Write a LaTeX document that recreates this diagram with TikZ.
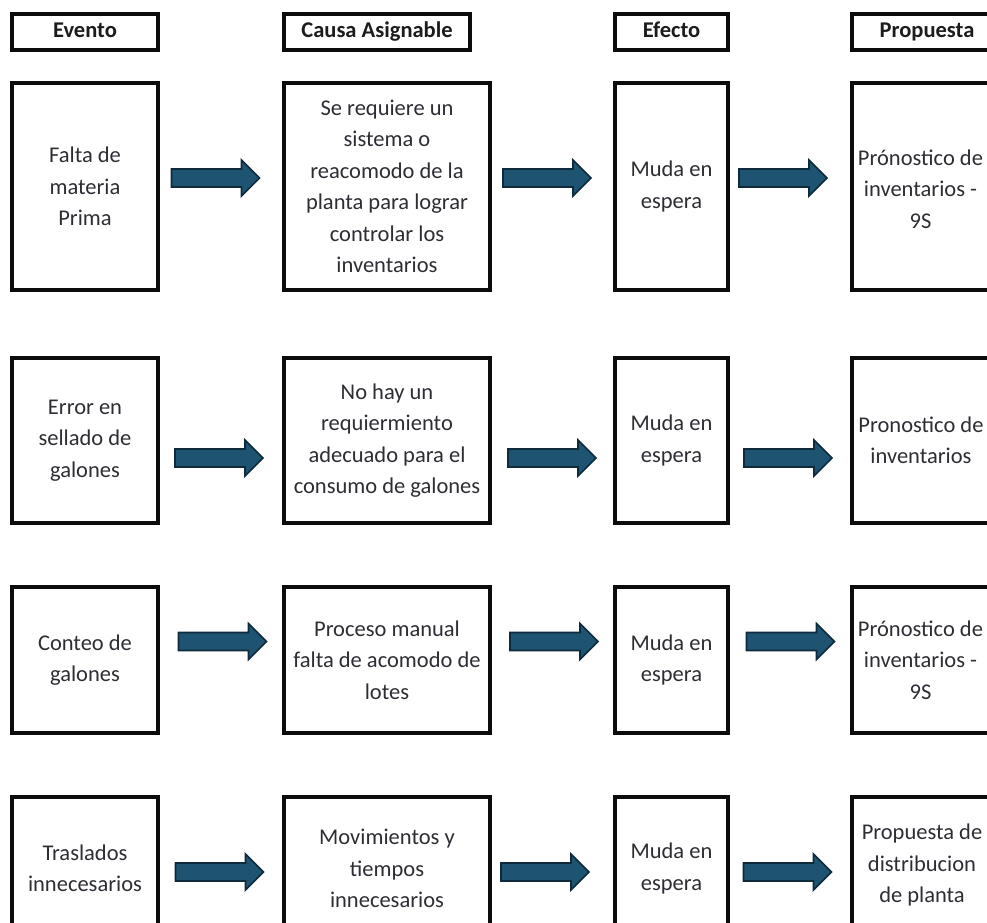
\documentclass[tikz,border=0pt]{standalone}
\usepackage{fontspec}
\setmainfont{Carlito}
\definecolor{frame}{RGB}{12,12,12}
\definecolor{headtext}{RGB}{28,28,28}
\definecolor{bodytext}{RGB}{45,45,52}
\definecolor{arrowfill}{RGB}{30,84,113}
\definecolor{arrowline}{RGB}{14,42,60}
\tikzset{
  header/.style={draw=frame, line width=3.5pt, rectangle, inner sep=0pt,
    minimum height=36pt, text=headtext, text height=13pt, text depth=3pt,
    font=\fontsize{22.5}{26}\selectfont\bfseries},
  cell/.style={draw=frame, line width=3.5pt, rectangle, inner sep=0pt,
    align=center, text=bodytext, font=\fontsize{22.5}{31.5}\selectfont},
  txt/.style={inner sep=0pt, align=center, text=bodytext,
    font=\fontsize{22.5}{31.5}\selectfont},
  pics/blockarrow/.style={code={
    \draw[draw=arrowline, fill=arrowfill, line width=1.6pt, line join=miter]
      (-44,-9) -- (26,-9) -- (26,-18) -- (44,0) -- (26,18) -- (26,9)
      -- (-44,9) -- cycle;
  }},
}
\begin{document}
\begin{tikzpicture}[x=1pt, y=-1pt]
\useasboundingbox (0,0) rectangle (987,922);
\clip (0,0) rectangle (987,922);

% column headers
\node[header, minimum width=146pt] (hEv) at (85,32) {Evento};
\node[header, minimum width=186pt] (hCa) at (377,32) {Causa Asignable};
\node[header, minimum width=113pt] (hEf) at (671.5,32) {Efecto};
\node[header, minimum width=150pt] (hPr) at (927,32) {Propuesta};

% row 1
\node[cell, minimum width=146pt, minimum height=207pt] (e1) at (85,186.5)
  {Falta de\\materia\\Prima};
\node[cell, minimum width=206pt, minimum height=207pt] (c1) at (387,186.5)
  {Se requiere un\\sistema o\\reacomodo de la\\planta para lograr\\controlar los\\inventarios};
\node[cell, minimum width=113pt, minimum height=207pt] (f1) at (671.5,186.5)
  {Muda en\\espera};
\node[cell, minimum width=150pt, minimum height=207pt] (p1) at (927,186.5) {};
\node[txt] (p1t) at (920.5,189) {Prónostico de\\inventarios -\\9S};
\pic (a11) at (215.5,178) {blockarrow};
\pic (a12) at (547,178) {blockarrow};
\pic (a13) at (783,178) {blockarrow};

% row 2
\node[cell, minimum width=146pt, minimum height=165pt] (e2) at (85,440.5)
  {Error en\\sellado de\\galones};
\node[cell, minimum width=206pt, minimum height=165pt] (c2) at (387,440.5)
  {No hay un\\requiermiento\\adecuado para el\\consumo de galones};
\node[cell, minimum width=113pt, minimum height=165pt] (f2) at (671.5,440.5)
  {Muda en\\espera};
\node[cell, minimum width=150pt, minimum height=165pt] (p2) at (927,440.5) {};
\node[txt] (p2t) at (921,440.5) {Pronostico de\\inventarios};
\pic (a21) at (219,458) {blockarrow};
\pic (a22) at (552,458) {blockarrow};
\pic (a23) at (788,458) {blockarrow};

% row 3
\node[cell, minimum width=146pt, minimum height=146pt] (e3) at (85,660)
  {Conteo de\\galones};
\node[cell, minimum width=206pt, minimum height=146pt] (c3) at (387,660)
  {Proceso manual\\falta de acomodo de\\lotes};
\node[cell, minimum width=113pt, minimum height=146pt] (f3) at (671.5,660)
  {Muda en\\espera};
\node[cell, minimum width=150pt, minimum height=146pt] (p3) at (927,660) {};
\node[txt] (p3t) at (920.5,660) {Prónostico de\\inventarios -\\9S};
\pic (a31) at (222.5,641.5) {blockarrow};
\pic (a32) at (554,641.5) {blockarrow};
\pic (a33) at (790.5,641.5) {blockarrow};

% row 4
\node[cell, minimum width=146pt, minimum height=143pt] (e4) at (85,868.5)
  {Traslados\\innecesarios};
\node[cell, minimum width=206pt, minimum height=143pt] (c4) at (387,868.5)
  {Movimientos y\\tiempos\\innecesarios};
\node[cell, minimum width=113pt, minimum height=143pt] (f4) at (671.5,868.5)
  {Muda en\\espera};
\node[cell, minimum width=150pt, minimum height=143pt] (p4) at (927,868.5) {};
\node[txt] (p4t) at (922,865) {Propuesta de\\distribucion\\de planta};
\pic (a41) at (219.5,872) {blockarrow};
\pic (a42) at (545,872) {blockarrow};
\pic (a43) at (787.5,872) {blockarrow};
\end{tikzpicture}
\end{document}
